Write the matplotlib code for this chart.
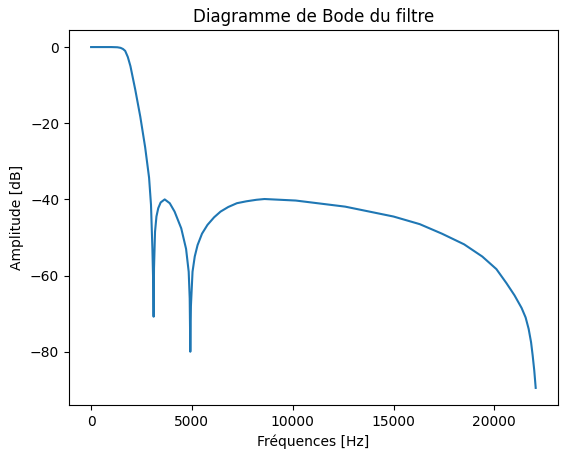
import matplotlib.pyplot as plt

# Points
freqs = [0, 1000, 1300, 1460, 1580, 1690, 1820, 1950, 2190, 2440, 2680, 2875, 2970, 3040, 3080, 3100,
         3120, 3170, 3240, 3330, 3450, 3650, 3900, 4140, 4470, 4710, 4840, 4890, 4920,
         4950, 5030, 5140, 5280, 5500, 5770, 6100, 6420, 6800, 7230, 7700, 8200, 8600,
         10150, 12600, 15000, 16300, 17400, 18500, 19400, 20100, 20600, 21000, 21350,
         21550, 21700, 21820, 21900, 21980, 22050]
amp_db = [0, 0, -0.05, -0.2, -0.5, -1, -2.6, -5, -11.2, -18.3, -26.3, -34.3, -41.4, -53, -62, -70.8,
          -58, -48.5, -44.5, -42.3, -40.8, -40, -41, -43.2, -47.6, -53, -59, -66, -80,
          -68, -59, -55, -52, -49, -46.7, -44.7, -43.2, -42, -41, -40.5, -40.1, -39.9,
          -40.3, -41.9, -44.5, -46.5, -49, -51.8, -55, -58.3, -62, -65.2, -68.5,
          -71, -74, -77.5, -81, -85, -89.5]

fig = plt.figure(figsize=(5.74, 4.55), dpi=100)
plt.plot(freqs, amp_db, color="#1f77b4")
plt.xlabel("Fréquences [Hz]")
plt.ylabel("Amplitude [dB]")
plt.title("Diagramme de Bode du filtre")
plt.subplots_adjust(left=0.12, right=0.972, top=0.934, bottom=0.11)
plt.savefig("out.png", dpi=100)
